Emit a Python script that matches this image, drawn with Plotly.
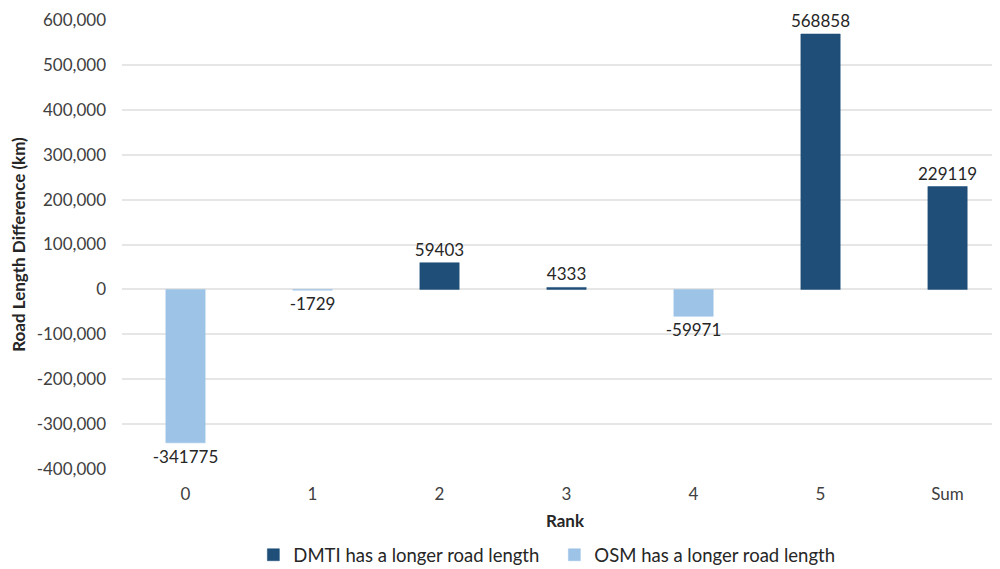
import plotly.graph_objects as go

categories = ["0", "1", "2", "3", "4", "5", "Sum"]
values = [-341775, -1729, 59403, 4333, -59971, 568858, 229119]
series_names = ["DMTI has a longer road length", "OSM has a longer road length"]
colors = ["#1F4E79", "#9DC3E6"]
y_ticks = list(range(-400000, 600001, 100000))

dmti = [v if v > 0 else None for v in values]
osm = [v if v < 0 else None for v in values]

FONT = "Lato"
fig = go.Figure()
for name, vals, col in zip(series_names, [dmti, osm], colors):
    fig.add_trace(go.Bar(
        x=categories, y=vals, name=name,
        marker=dict(color=col, line=dict(color=col, width=0.5)),
        width=0.31,
        text=[str(v) if v is not None else "" for v in vals],
        textposition="outside",
        constraintext="none",
        textfont=dict(family=FONT, size=17, color="#262626"),
        cliponaxis=False,
    ))

fig.update_layout(
    width=1000, height=569,
    barmode="overlay",
    plot_bgcolor="white", paper_bgcolor="white",
    margin=dict(l=114, r=0, t=12, b=108, autoexpand=False),
    font=dict(family=FONT, size=17, color="#404040"),
    legend=dict(orientation="h", x=0.488, xanchor="center", y=-0.192, yanchor="middle",
                font=dict(family=FONT, size=18.5, color="#262626"),
                itemwidth=30, entrywidth=256, traceorder="normal"),
    uniformtext=dict(mode=False),
)
fig.update_xaxes(
    type="category", range=[-0.5, 6.476],
    title=dict(text="<b>Rank</b>", font=dict(family=FONT, size=17, color="#262626"), standoff=12),
    tickfont=dict(family=FONT, size=17, color="#404040"),
    ticklabelstandoff=13,
    showgrid=False, zeroline=False, showline=False, ticks="",
)
fig.update_yaxes(
    range=[-400000, 600000], tickvals=y_ticks,
    ticktext=[f"{v:,}" for v in y_ticks],
    title=dict(text="<b>Road Length Difference (km)</b>", font=dict(family=FONT, size=17, color="#262626"), standoff=14),
    tickfont=dict(family=FONT, size=17, color="#404040"),
    ticklabelstandoff=15,
    showgrid=True, gridcolor="#E6E6E6", gridwidth=1.5, zeroline=False, ticks="", ticklen=0,
)
fig.write_html("out.html")
